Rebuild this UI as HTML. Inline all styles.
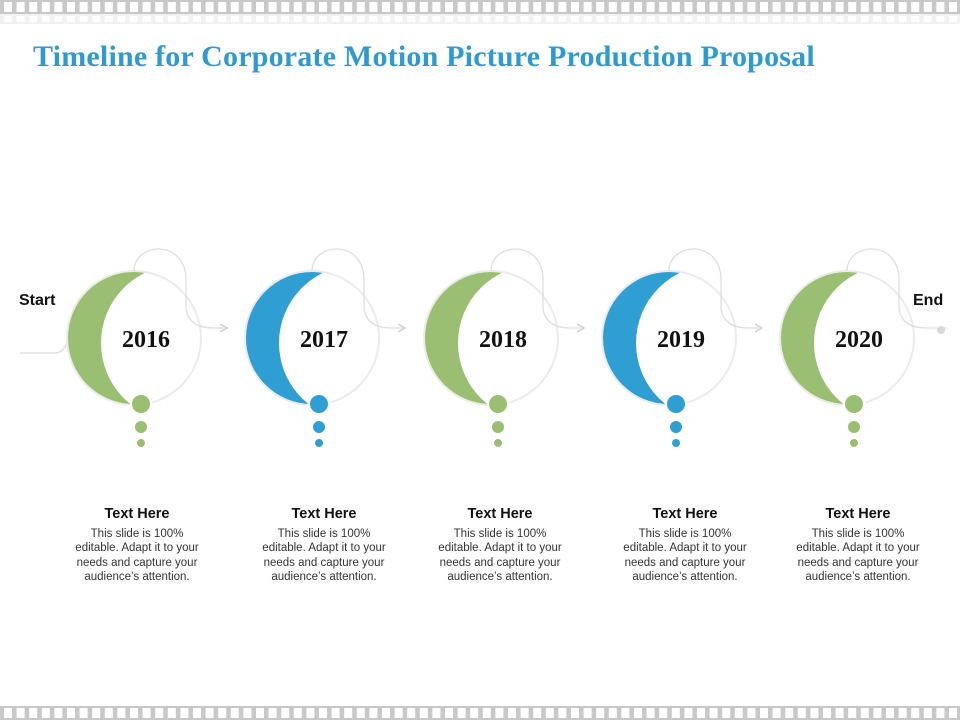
<!DOCTYPE html>
<html><head><meta charset="utf-8"><style>
body{margin:0;width:960px;height:720px;background:#fff;overflow:hidden;position:relative;font-family:"Liberation Sans",sans-serif}
#title{position:absolute;left:33px;top:40px;font-family:"Liberation Serif",serif;font-weight:bold;font-size:30px;letter-spacing:0.2px;color:#2e9ad0;white-space:nowrap}
.blk{position:absolute;top:507px;width:150px;text-align:center;color:#333;font-size:11.5px;line-height:14.5px}
.blk span{display:block;width:128px;margin:0 auto}
.blk b{display:block;font-size:14.5px;color:#111;margin-bottom:5px}
</style></head><body>
<svg id="svg" width="960" height="720" style="position:absolute;left:0;top:0"></svg>
<div id="title">Timeline for Corporate Motion Picture Production Proposal</div>
<script>
const years=["2016","2017","2018","2019","2020"];
const colors=["#9bbf72","#2e9ed3","#9bbf72","#2e9ed3","#9bbf72"];
const centers=[134,312,491,669,847];
const NS="http://www.w3.org/2000/svg";
const svg=document.getElementById('svg');
function mk(t,a,p){const e=document.createElementNS(NS,t);for(const k in a)e.setAttribute(k,a[k]);(p||svg).appendChild(e);return e;}
function strip(y,h,op,name){
  const r=mk('rect',{x:0,y:y,width:960,height:h,fill:'#c8c8c8',opacity:op});
  
  
  for(let x=4;x<960;x+=12.6){mk('rect',{x:x,y:y+2,width:8,height:h-4,fill:'#fff'});}
}
strip(0,14,1,'film-strip-top');
strip(14,10,0.25,'film-strip-shadow');
strip(706,14,1,'film-strip-bottom');
const defs=mk('defs',{});
const cy=338,R=67;
let s=mk('path',{d:'M20 353 L55 353 Q66 352 68 338',fill:'none',stroke:'#ddd','stroke-width':1.3});


years.forEach((y,i)=>{
  const cx=centers[i],c=colors[i];
  const g=mk('circle',{cx:cx,cy:cy,r:R,fill:'#fff',stroke:'#ebebeb','stroke-width':2});
  
  
  const m=mk('mask',{id:'m'+i},defs);
  mk('rect',{x:0,y:0,width:960,height:720,fill:'#fff'},m);
  mk('circle',{cx:cx+45,cy:cy+5,r:78,fill:'#000'},m);
  const cr=mk('circle',{cx:cx,cy:cy,r:R-1,fill:c,mask:'url(#m'+i+')'});
  
  
  const ln=mk('path',{d:`M${cx} ${cy-R} C${cx} ${cy-95} ${cx+50} ${cy-100} ${cx+52} ${cy-60} L${cx+52} ${cy-30} Q${cx+54} ${cy-10} ${cx+80} ${cy-10}`+(i<4?` L${cx+90} ${cy-10}`:` L${cx+100} ${cy-10}`),fill:'none',stroke:'#dedede','stroke-width':1.3});
  
  
  if(i<4){mk('path',{d:`M${cx+86} ${cy-14} L${cx+93} ${cy-10} L${cx+86} ${cy-6}`,fill:'none',stroke:'#ccc','stroke-width':1.3});}
  else{const d=mk('circle',{cx:cx+94,cy:cy-8,r:4,fill:'#d8d8d8'});}
  const t=mk('text',{x:cx+12,y:cy+9,'text-anchor':'middle','font-family':'Liberation Serif,serif','font-weight':'bold','font-size':24,fill:'#111'});
  t.textContent=y;
  
  
  [[66,10],[89,6],[105,4]].forEach(([dy,r],k)=>{
    const d=mk('circle',{cx:cx+7,cy:cy+dy,r:r,fill:c,stroke:'#fff','stroke-width':k==0?2:0});
    
    
  });
  const b=document.createElement('div');b.className='blk';
  b.style.left=([137,324,500,685,858][i]-75)+'px';
  b.innerHTML='<b>Text Here</b><span>This slide is 100% editable. Adapt it to your needs and capture your audience’s attention.</span>';
  
  
  document.body.appendChild(b);
});
const st=mk('text',{x:19,y:305,'font-weight':'bold','font-size':16,fill:'#111','font-family':'Liberation Sans,sans-serif'});st.textContent='Start';


const en=mk('text',{x:913,y:305,'font-weight':'bold','font-size':16,fill:'#111','font-family':'Liberation Sans,sans-serif'});en.textContent='End';


</script>
</body></html>
